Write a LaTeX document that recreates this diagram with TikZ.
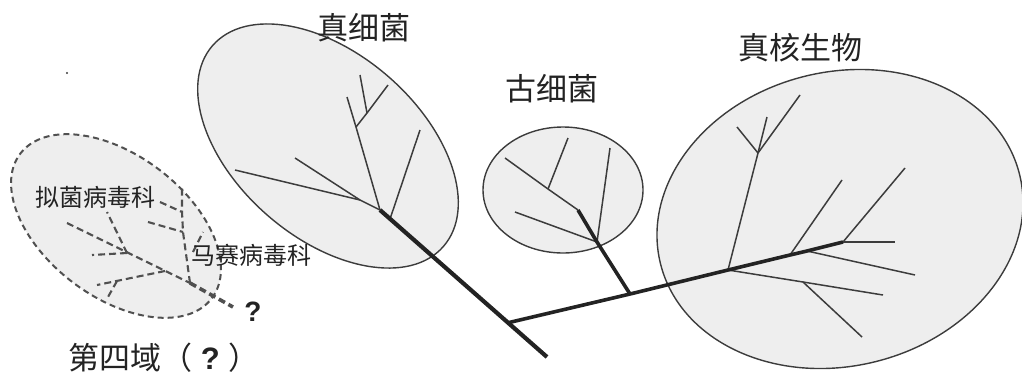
\documentclass[tikz,border=0pt]{standalone}
\usepackage{fontspec}
\newfontfamily\cjk{Noto Sans CJK SC}
\newfontfamily\qfont{Liberation Sans}
\usetikzlibrary{shapes.geometric}
\definecolor{fillg}{RGB}{238,238,238}
\definecolor{lineg}{RGB}{60,60,60}
\definecolor{inkc}{RGB}{35,35,35}
\definecolor{dashg}{RGB}{80,80,80}
\begin{document}
\begin{tikzpicture}[x=1pt,y=-1pt,
  dombox/.style={ellipse, draw=lineg, fill=fillg, line width=1.4pt, inner sep=0pt},
  vdombox/.style={dombox, draw=dashg, dash pattern=on 6pt off 4pt, line width=2pt},
  twig/.style={draw=lineg, line width=1.5pt},
  trunk/.style={draw=inkc, line width=4.2pt},
  htrunk/.style={draw=inkc, line width=3.6pt},
  vtwig/.style={draw=dashg, line width=2.1pt, dash pattern=on 7pt off 4pt},
  vtrunk/.style={vtwig, line width=3.6pt},
  lbl/.style={text=inkc, inner sep=0pt, font=\cjk\fontsize{31}{36}\selectfont},
  slbl/.style={lbl, font=\cjk\fontsize{24}{28}\selectfont},
  qlbl/.style={text=inkc, inner sep=0pt, font=\qfont\bfseries\fontsize{28}{32}\selectfont},
]
\useasboundingbox (0,0) rectangle (1022,376);

% domains
\node[dombox, minimum width=306pt, minimum height=184pt, rotate=-41] (bac) at (328,146) {};
\node[dombox, minimum width=160pt, minimum height=126pt] (arc) at (563,190) {};
\node[dombox, minimum width=370pt, minimum height=294pt, rotate=14] (euk) at (840,219) {};
\node[vdombox, minimum width=240pt, minimum height=142pt, rotate=-37] (vir) at (116,226) {};

% bacteria tree
\coordinate (b0) at (547,357);
\coordinate (bj) at (507,323);
\coordinate (b1) at (390,219);
\coordinate (bA) at (380,210);
\coordinate (bB) at (360,200);
\coordinate (bL1) at (235,170);
\coordinate (bL2) at (295,158);
\coordinate (bC) at (356,127);
\coordinate (bL3) at (347,97);
\coordinate (bD) at (367,113);
\coordinate (bL4) at (388,85);
\coordinate (bL5) at (360,75);
\coordinate (bL6) at (420,130);
\draw[twig] (bA) -- (bB) -- (bL1);
\draw[twig] (bB) -- (bL2);
\draw[twig] (bA) -- (bC) -- (bL3);
\draw[twig] (bC) -- (bD) -- (bL4);
\draw[twig] (bD) -- (bL5);
\draw[twig] (b1) -- (bL6);
\draw[trunk] (b0) -- (bA);

% archaea tree
\coordinate (m1) at (630,294);
\coordinate (a1) at (597,242);
\coordinate (a2) at (578,210);
\coordinate (a3) at (548,189);
\coordinate (aL1) at (515,212);
\coordinate (aL2) at (610,148);
\coordinate (aL3) at (505,158);
\coordinate (aL4) at (568,138);
\draw[twig] (a1) -- (aL1);
\draw[twig] (a1) -- (aL2);
\draw[twig] (a2) -- (a3) -- (aL3);
\draw[twig] (a3) -- (aL4);
\draw[htrunk] (m1) -- (a1) -- (a2);

% eukaryote tree
\coordinate (e1) at (728,270);
\coordinate (e2) at (790,255);
\coordinate (e3) at (807,251);
\coordinate (e4) at (843,242);
\coordinate (eJ) at (758,153);
\coordinate (eL1) at (737,127);
\coordinate (eL2) at (767,117);
\coordinate (eL3) at (800,95);
\coordinate (e1b) at (803,282);
\coordinate (eL4) at (883,295);
\coordinate (eL5) at (862,337);
\coordinate (eL6) at (842,180);
\coordinate (eL7) at (915,275);
\coordinate (eL8) at (905,168);
\coordinate (eL9) at (895,242);
\draw[twig] (e1) -- (eJ) -- (eL2);
\draw[twig] (eJ) -- (eL1);
\draw[twig] (eJ) -- (eL3);
\draw[twig] (e1) -- (e1b) -- (eL4);
\draw[twig] (e1b) -- (eL5);
\draw[twig] (e2) -- (eL6);
\draw[twig] (e3) -- (eL7);
\draw[twig] (e4) -- (eL8);
\draw[twig] (e4) -- (eL9);
\draw[htrunk] (bj) -- (m1) -- (e1) -- (e2) -- (e3) -- (e4);

% virus tree (dashed)
\coordinate (v0) at (67,223);
\coordinate (v1) at (127,253);
\coordinate (v2) at (165,271);
\coordinate (v3) at (190,283);
\coordinate (vq) at (233,307);
\coordinate (vL1) at (107,212);
\coordinate (vL2) at (92,255);
\coordinate (vL3) at (97,285);
\coordinate (v2b) at (117,281);
\coordinate (vL4) at (108,297);
\coordinate (vs1) at (183,232);
\coordinate (vs2) at (182,212);
\coordinate (vs3) at (182,187);
\coordinate (vL5) at (160,202);
\coordinate (vL6) at (148,222);
\coordinate (vs4) at (193,252);
\coordinate (vL7) at (203,232);
\draw[vtwig] (v0) -- (v3);
\draw[vtwig] (v1) -- (vL1);
\draw[vtwig] (v1) -- (vL2);
\draw[vtwig] (v2) -- (vL3);
\draw[vtwig] (v2b) -- (vL4);
\draw[vtwig] (v3) -- (vs1) -- (vs2) -- (vs3);
\draw[vtwig] (vL5) -- (vs2);
\draw[vtwig] (vL6) -- (vs1);
\draw[vtwig] (vs4) -- (vL7);
\draw[vtrunk] (v3) -- (vq);

% labels
\node[lbl] (tb) at (364,28) {真细菌};
\node[lbl] (ta) at (552,89) {古细菌};
\node[lbl] (te) at (800,48) {真核生物};
\node[slbl] (tv1) at (95,197) {拟菌病毒科};
\node[slbl] (tv2) at (251,255) {马赛病毒科};
\node[qlbl] (q) at (253,312) {?};
\node[lbl, anchor=base west, font=\cjk\fontsize{31}{36}\selectfont] (t4) at (68,369) {第四域（\;{\qfont\bfseries ?}\;）};

\fill[lineg] (67,73) circle (1.2pt);
\end{tikzpicture}
\end{document}
